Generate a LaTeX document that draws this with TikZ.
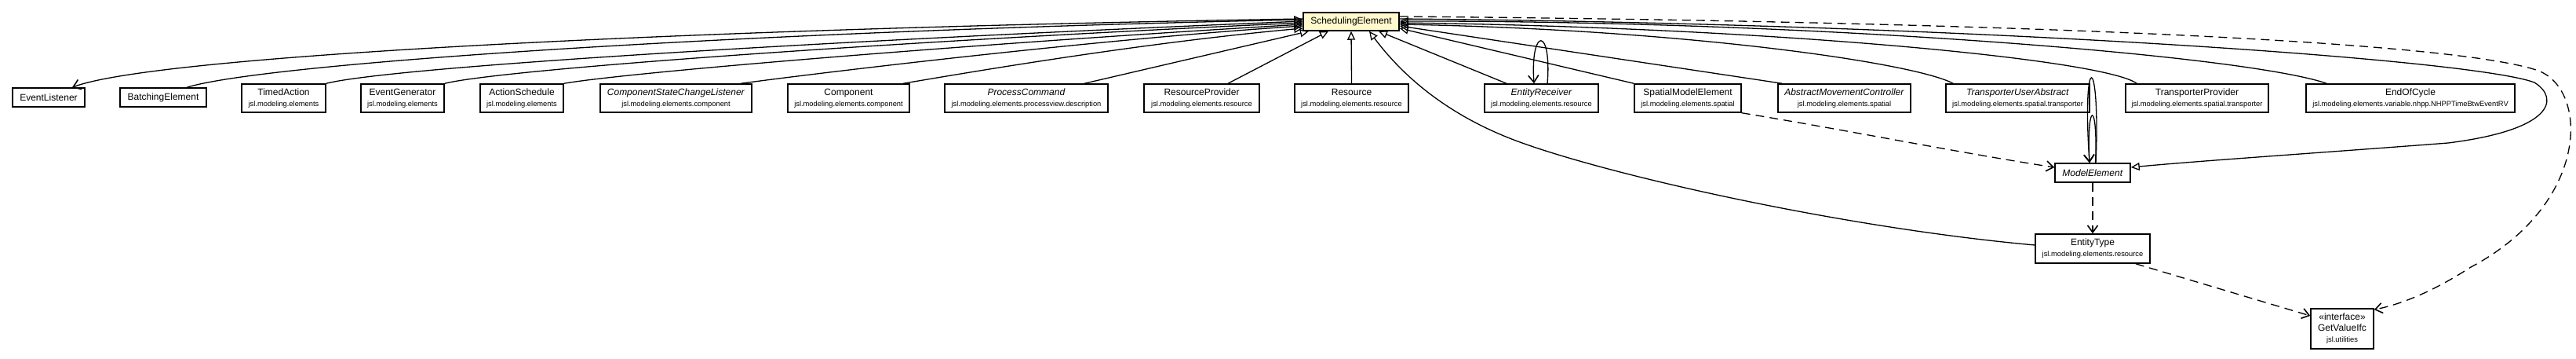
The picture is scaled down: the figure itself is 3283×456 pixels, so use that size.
\documentclass[tikz,border=0pt]{standalone}
\usepackage{fontspec}
\setmainfont{Liberation Sans}
\usetikzlibrary{arrows.meta}
\definecolor{sefill}{RGB}{255,249,205}
\newcommand{\pk}[1]{{\fontsize{9.33}{11}\selectfont #1}}
\begin{document}
\begin{tikzpicture}[x=1pt,y=-1pt,
  cls/.style={draw, line width=1.5pt, fill=white, align=center, inner sep=0pt, font=\fontsize{12}{14}\selectfont},
  gen/.style={line width=1.3pt, -{Triangle[open, length=11pt, width=10pt]}},
  dep/.style={line width=1.3pt, dash pattern=on 11pt off 7pt, -{Straight Barb[length=9pt, width=13pt, line width=1.6pt]}},
  nav/.style={line width=1.3pt, -{Straight Barb[length=9pt, width=13pt, line width=1.6pt]}}
]
\useasboundingbox (0,0) rectangle (3283,456);
% nodes
\node[cls, fill=sefill, minimum width=122pt, minimum height=23pt] (se) at (1722,27.5) {SchedulingElement};
\node[cls, minimum width=92pt, minimum height=24pt] (el) at (62,124) {EventListener};
\node[cls, minimum width=110pt, minimum height=24pt] (be) at (208,124) {BatchingElement};
\node[cls, minimum width=107pt, minimum height=36pt] (ta) at (361.5,125) {TimedAction\\\pk{jsl.modeling.elements}};
\node[cls, minimum width=106pt, minimum height=36pt] (eg) at (513,125) {EventGenerator\\\pk{jsl.modeling.elements}};
\node[cls, minimum width=106pt, minimum height=36pt] (as) at (665,125) {ActionSchedule\\\pk{jsl.modeling.elements}};
\node[cls, minimum width=193pt, minimum height=36pt] (cscl) at (861.5,125) {\textit{ComponentStateChangeListener}\\\pk{jsl.modeling.elements.component}};
\node[cls, minimum width=155pt, minimum height=36pt] (comp) at (1081.5,125) {Component\\\pk{jsl.modeling.elements.component}};
\node[cls, minimum width=208pt, minimum height=36pt] (pc) at (1308,125) {\textit{ProcessCommand}\\\pk{jsl.modeling.elements.processview.description}};
\node[cls, minimum width=147pt, minimum height=36pt] (rp) at (1531.5,125) {ResourceProvider\\\pk{jsl.modeling.elements.resource}};
\node[cls, minimum width=145pt, minimum height=36pt] (res) at (1722.5,125) {Resource\\\pk{jsl.modeling.elements.resource}};
\node[cls, minimum width=145pt, minimum height=36pt] (er) at (1964.5,125) {\textit{EntityReceiver}\\\pk{jsl.modeling.elements.resource}};
\node[cls, minimum width=136pt, minimum height=36pt] (sme) at (2151,125) {SpatialModelElement\\\pk{jsl.modeling.elements.spatial}};
\node[cls, minimum width=169pt, minimum height=36pt] (amc) at (2350.5,125) {\textit{AbstractMovementController}\\\pk{jsl.modeling.elements.spatial}};
\node[cls, minimum width=183pt, minimum height=36pt] (tua) at (2571.5,125) {\textit{TransporterUserAbstract}\\\pk{jsl.modeling.elements.spatial.transporter}};
\node[cls, minimum width=182pt, minimum height=36pt] (tp) at (2800,125) {TransporterProvider\\\pk{jsl.modeling.elements.spatial.transporter}};
\node[cls, minimum width=266pt, minimum height=36pt] (eoc) at (3072,125) {EndOfCycle\\\pk{jsl.modeling.elements.variable.nhpp.NHPPTimeBtwEventRV}};
\node[cls, minimum width=96pt, minimum height=24pt] (me) at (2667,220) {\textit{ModelElement}};
\node[cls, minimum width=146pt, minimum height=37pt] (et) at (2667,316.5) {EntityType\\\pk{jsl.modeling.elements.resource}};
\node[cls, minimum width=80pt, minimum height=51pt] (gv) at (2985,418.5) {«interface»\\GetValueIfc\\\pk{jsl.utilities}};
% left side edges
\draw[nav] ([yshift=3.5pt]se.west) .. controls (900,36) and (200,70) .. ([xshift=30pt]el.north);
\draw[gen] ([xshift=30pt]be.north) .. controls (340,80) and (950,40) .. ([yshift=2.5pt]se.west);
\draw[gen] (ta.north east) .. controls (500,85) and (1050,52) .. ([yshift=0.5pt]se.west);
\draw[gen] (eg.north east) .. controls (640,88) and (1150,52) .. ([yshift=-1.5pt]se.west);
\draw[gen] (as.north east) .. controls (800,92) and (1250,55) .. ([yshift=-3.5pt]se.west);
\draw[gen] ([xshift=82.5pt]cscl.north) .. controls (1050,92) and (1400,50) .. ([yshift=-5.5pt]se.west);
\draw[gen] ([xshift=69.5pt]comp.north) .. controls (1230,93) and (1450,55) .. ([yshift=-8.5pt]se.west);
\draw[gen] ([xshift=74pt]pc.north) -- ([xshift=-54pt]se.south);
\draw[gen] ([xshift=33.5pt]rp.north) -- ([xshift=-29pt]se.south);
\draw[gen] (res.north) -- (se.south);
\draw[gen] ([yshift=4.5pt]et.west) .. controls (2350,290) and (2060,225) .. (1940,182) .. controls (1850,150) and (1790,100) .. ([xshift=23pt]se.south);
\draw[gen] ([xshift=-44.5pt]er.north) -- ([xshift=35pt]se.south);
% right side edges
\draw[gen] (sme.north west) -- ([yshift=-8.5pt]se.east);
\draw[gen] ([xshift=6pt]amc.north west) -- ([yshift=-5.5pt]se.east);
\draw[gen] ([xshift=10pt]tua.north west) .. controls (2440,80) and (2150,38) .. ([yshift=-3.5pt]se.east);
\draw[gen] ([xshift=15pt]tp.north west) .. controls (2680,75) and (2250,35) .. ([yshift=-1.5pt]se.east);
\draw[gen] ([xshift=27pt]eoc.north west) .. controls (2860,70) and (2300,26) .. ([yshift=0.5pt]se.east);
% self loops
\draw[nav] ([xshift=7.5pt]er.north) .. controls (1978,34) and (1950,34) .. ([xshift=-9.5pt]er.north);
\draw[nav] ([xshift=4pt]me.north) .. controls (2677,63) and (2653,63) .. ([xshift=-4pt]me.north);
\draw[nav] ([xshift=3.5pt]me.north) .. controls (2674,127) and (2659,127) .. ([xshift=-4pt]me.north);
% SchedulingElement -> ModelElement
\draw[gen] ([yshift=3.5pt]se.east) .. controls (2500,30) and (3150,75) .. (3230,105) .. controls (3262,125) and (3255,165) .. (3120,182) .. controls (2950,195) and (2800,205) .. ([yshift=7pt]me.east);
% SchedulingElement -> GetValueIfc
\draw[dep] ([yshift=6.5pt]se.east) .. controls (2500,27) and (3120,50) .. (3235,90) .. controls (3300,115) and (3300,260) .. (3149,340) .. controls (3110,365) and (3070,385) .. ([yshift=-2pt]gv.north east);
% dependencies
\draw[dep] (sme.south east) .. controls (2350,165) and (2500,195) .. ([yshift=7pt]me.west);
\draw[dep] (me.south) -- (et.north);
\draw[dep] ([xshift=-19pt]et.south east) -- ([yshift=16.5pt]gv.west);
\end{tikzpicture}
\end{document}
